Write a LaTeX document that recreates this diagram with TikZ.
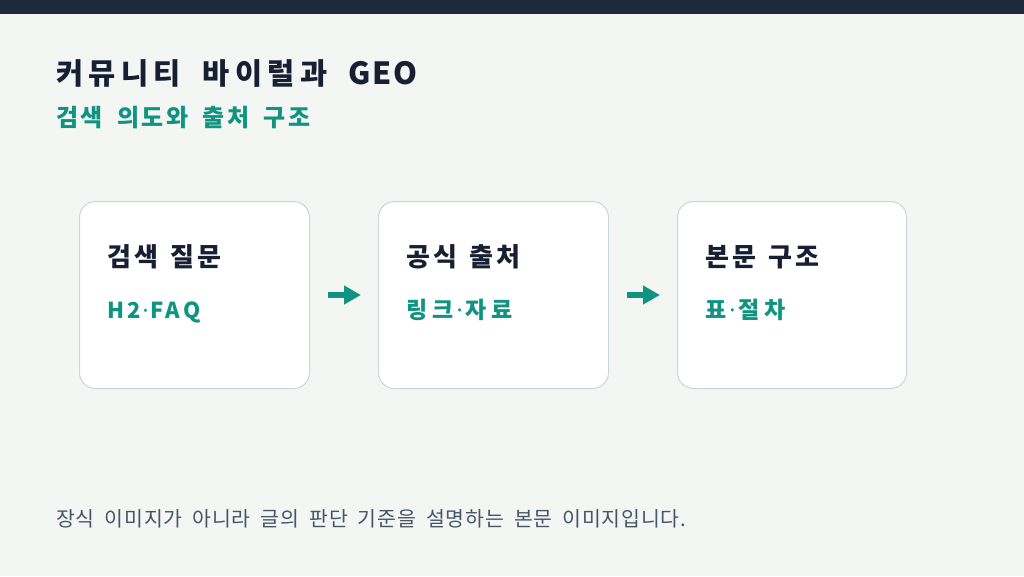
\documentclass[tikz,border=0pt]{standalone}
\usepackage{fontspec}
\setmainfont{Noto Sans CJK KR}
\newfontfamily\krtitle[LetterSpace=18]{Noto Sans CJK KR}
\newfontfamily\krtitlelat[LetterSpace=6]{Noto Sans CJK KR}
\newfontfamily\krsub[LetterSpace=10]{Noto Sans CJK KR}
\newfontfamily\krcard[LetterSpace=12]{Noto Sans CJK KR}
\newfontfamily\krlab[LetterSpace=22]{Noto Sans CJK KR}
\newfontfamily\latlab[LetterSpace=14]{Noto Sans CJK KR}
\newfontfamily\krfoot[LetterSpace=4]{Noto Sans CJK KR}
\newfontfamily\dotf{Noto Sans}
\newcommand{\mdot}{{\dotf\kern2pt·\kern2pt}}
\newcommand{\mdotw}{{\dotf\kern3pt·\kern3pt}}
\newcommand{\fsub}{\krsub\bfseries\fontsize{24}{28}\selectfont\spaceskip 14.5pt\relax}
\newcommand{\fcard}{\krcard\bfseries\fontsize{26}{30}\selectfont\spaceskip 12pt\relax}
\newcommand{\ffoot}{\krfoot\fontsize{20.5}{24}\selectfont\spaceskip 10pt\relax}
\usetikzlibrary{arrows.meta}
\definecolor{bgc}{HTML}{F4F6F3}
\definecolor{navy}{HTML}{1E293B}
\definecolor{ink}{HTML}{172033}
\definecolor{teal}{HTML}{0F9482}
\definecolor{bord}{HTML}{CBD5E1}
\definecolor{foot}{HTML}{475569}
\tikzset{
  card/.style={draw=bord, line width=1pt, fill=white, rounded corners=16pt},
  cardtitle/.style={anchor=base west, inner sep=0pt, text=ink, font=\fcard},
  cardsub/.style={anchor=base west, inner sep=0pt, text=teal, font=\krlab\bfseries\fontsize{23}{26}\selectfont},
  flow/.style={draw=teal, line width=6pt, -{Triangle[length=17pt,width=18pt]}},
}
\begin{document}
\begin{tikzpicture}[x=1pt,y=-1pt]
\fill[bgc] (0,0) rectangle (1024,576);
\fill[navy] (0,0) rectangle (1024,14);
\useasboundingbox (0,0) rectangle (1024,576);
\node[anchor=base west, inner sep=0pt, text=ink, font=\krtitle\bfseries\fontsize{29.5}{34}\selectfont] (title) at (56,84) {커뮤니티\hspace{10pt} 바이럴과\hspace{9pt} {\krtitlelat\bfseries\fontsize{30.5}{34}\selectfont GEO}};
\node[anchor=base west, inner sep=0pt, text=teal, font=\fsub] (subtitle) at (56,126) {검색 의도와 출처 구조};
\node[card, minimum width=230pt, minimum height=187pt, anchor=north west] (b1) at (79,201) {};
\node[card, minimum width=230pt, minimum height=187pt, anchor=north west] (b2) at (378,201) {};
\node[card, minimum width=229pt, minimum height=187pt, anchor=north west] (b3) at (677,201) {};
\node[cardtitle] (t1) at (107,266) {검색 질문};
\node[cardsub, font=\latlab\bfseries\fontsize{22}{26}\selectfont] (s1) at (107,318) {H2\mdot FAQ};
\node[cardtitle] (t2) at (406,266) {공식 출처};
\node[cardsub] (s2) at (406,318) {링크\mdotw 자료};
\node[cardtitle] (t3) at (705,266) {본문 구조};
\node[cardsub] (s3) at (705,318) {표\mdotw 절차};
\coordinate (a1s) at (328,295); \coordinate (a1e) at (361,295);
\coordinate (a2s) at (627,295); \coordinate (a2e) at (660,295);
\draw[flow] (a1s) -- (a1e);
\draw[flow] (a2s) -- (a2e);
\node[anchor=base west, inner sep=0pt, text=foot, font=\ffoot] (footer) at (56,526) {장식 이미지가 아니라 글의 판단 기준을 설명하는 본문 이미지입니다.};
\end{tikzpicture}
\end{document}
